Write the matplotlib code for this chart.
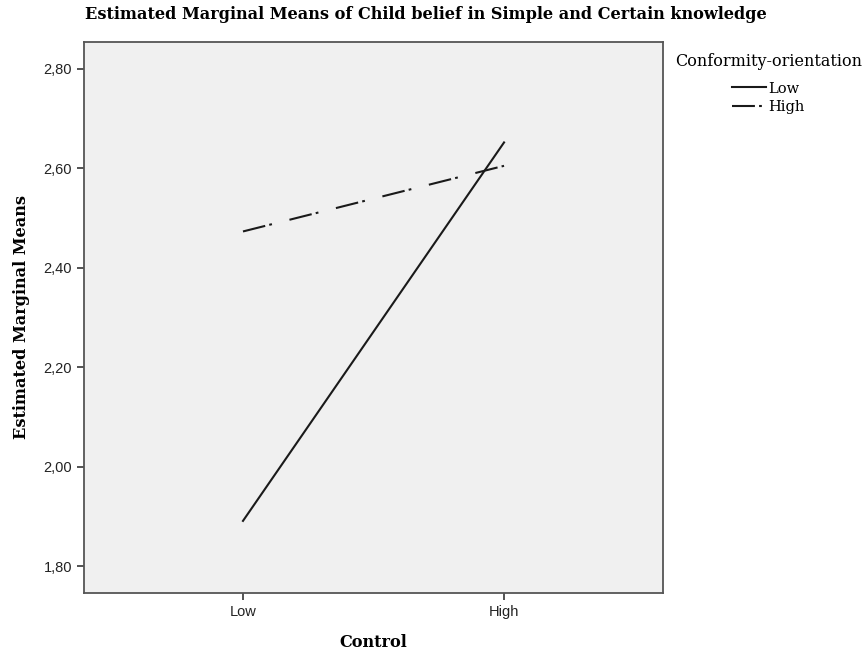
import matplotlib.pyplot as plt
from matplotlib.ticker import FuncFormatter

# data
control_levels = ['Low', 'High']
conf_low = [1.891, 2.652]
conf_high = [2.473, 2.605]
yticks = [1.8, 2.0, 2.2, 2.4, 2.6, 2.8]

plt.rcParams['lines.scale_dashes'] = False

fig = plt.figure(figsize=(8.65, 6.5), dpi=100)
ax = fig.add_axes([0.0971, 0.0877, 0.6694, 0.8477])
ax.set_facecolor('#f0f0f0')

x = list(range(len(control_levels)))
ax.plot(x, conf_low, color='#1a1a1a', lw=1.5, label='Low')
ax.plot(x, conf_high, color='#1a1a1a', lw=1.5, dashes=(16.5, 3, 2, 13), label='High')

ax.set_xlim(-0.609, 1.609)
ax.set_ylim(1.746, 2.854)
ax.set_xticks(x)
ax.set_xticklabels(control_levels)
ax.set_yticks(yticks)
ax.yaxis.set_major_formatter(FuncFormatter(lambda v, p: f'{v:.2f}'.replace('.', ',')))

for s in ax.spines.values():
    s.set_color('#555555')
    s.set_linewidth(1.3)
ax.tick_params(direction='out', length=5, width=1.3, color='#444444',
               labelsize=10.5, labelcolor='#222222')
for lab in ax.get_xticklabels() + ax.get_yticklabels():
    lab.set_family('Liberation Sans')

fig.text(0.492, 0.977, 'Estimated Marginal Means of Child belief in Simple and Certain knowledge',
         family='DejaVu Serif', weight='bold', fontsize=11.6, ha='center', va='center')
ax.set_xlabel('Control', family='DejaVu Serif', weight='bold', fontsize=11.6, labelpad=11)
ax.set_ylabel('Estimated Marginal Means', family='DejaVu Serif', weight='bold',
              fontsize=11.6, labelpad=10)

leg = ax.legend(loc='upper left', bbox_to_anchor=(0.998, 1.003), frameon=False,
                title='Conformity-orientation', handlelength=2.3, handletextpad=0.2,
                labelspacing=0.3, prop={'family': 'DejaVu Serif', 'size': 10.5})
leg.get_title().set_family('DejaVu Serif')
leg.get_title().set_fontsize(11.5)
leg._legend_box.sep = 8

fig.savefig('out.png', dpi=100)
